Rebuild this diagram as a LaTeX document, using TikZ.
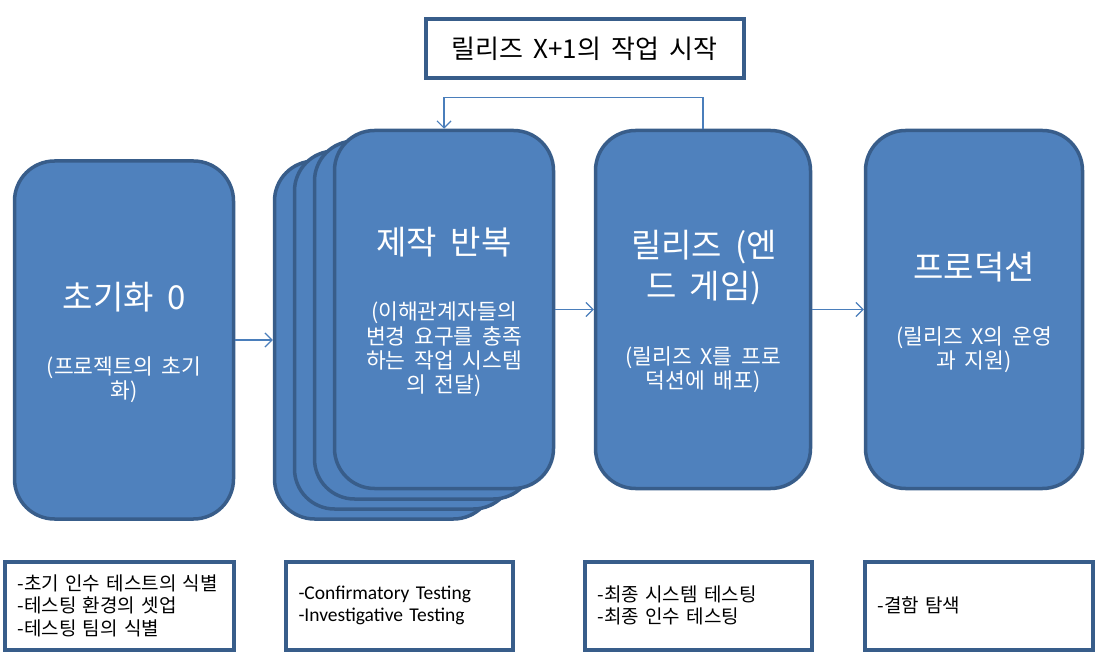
\documentclass[tikz,border=0pt]{standalone}
\usepackage{fontspec}
\setmainfont{Noto Sans CJK KR}[WordSpace=1.8]
\newfontfamily\lat{Carlito}
\usetikzlibrary{arrows.meta}
\definecolor{bfill}{HTML}{4F81BD}
\definecolor{bline}{HTML}{385D8A}
\definecolor{acol}{HTML}{4A7EBB}
\tikzset{
  blk/.style={draw=bline, fill=bfill, line width=3.5pt, rounded corners=40pt, minimum width=#1, minimum height=358pt, inner sep=0pt},
  note/.style={draw=bline, fill=white, line width=4pt, minimum width=#1, minimum height=88pt, inner xsep=13pt, text width=#1-26pt, align=left, font=\fontsize{19}{22.5}\selectfont},
  ttl/.style={text=white, align=center, inner sep=0pt, font=\fontsize{33}{41}\selectfont},
  sub/.style={text=white, align=center, inner sep=0pt, font=\fontsize{21.5}{24.3}\selectfont},
  arr/.style={draw=acol, line width=1.2pt, -{Straight Barb[length=7pt,width=14pt]}},
  topbox/.style={draw=bline, fill=white, line width=4pt, minimum width=318pt, minimum height=59pt, font=\fontsize{26}{30}\selectfont},
}
\begin{document}
\begin{tikzpicture}[x=1pt,y=-1pt]
\useasboundingbox (0,0) rectangle (1098,668);
% top box
\node[topbox] (top) at (584.5,49) {릴리즈 X+1의 작업 시작};
% blocks
\node[blk=219pt] (init) at (124,340) {};
\node[blk=219pt] (s4) at (384,340) {};
\node[blk=219pt] (s3) at (404,330) {};
\node[blk=219pt] (s2) at (424,320) {};
\node[blk=219pt] (s1) at (444,309.5) {};
\node[blk=215pt] (rel) at (703,309.5) {};
\node[blk=217pt] (prod) at (974,309.5) {};
% texts
\node[ttl] (t1) at (124,297) {초기화 0};
\node[sub] (u1) at (124,379.5) {(프로젝트의 초기\\화)};
\node[ttl] (t2) at (444,242) {제작 반복};
\node[sub] (u2) at (444,349.5) {(이해관계자들의\\변경 요구를 충족\\하는 작업 시스템\\의 전달)};
\node[ttl] (t3) at (704,267.5) {릴리즈 (엔\\드 게임)};
\node[sub] (u3) at (703,369.5) {(릴리즈 X를 프로\\덕션에 배포)};
\node[ttl] (t4) at (974,267) {프로덕션};
\node[sub] (u4) at (974,349.5) {(릴리즈 X의 운영\\과 지원)};
% arrows
\draw[arr] (init.east) -- (s4.west);
\draw[arr] (s1.east) -- (rel.west);
\draw[arr] (rel.east) -- (prod.west);
\draw[arr] (rel.north) -- ++(0,-31) -| (s1.north);
% notes
\node[note=229pt] (n1) at (119,605.5) {-초기 인수 테스트의 식별\\-테스팅 환경의 셋업\\-테스팅 팀의 식별};
\node[note=227pt] (n2) at (399,605.5) {\lat\fontsize{19.5}{22.5}\selectfont -Confirmatory Testing\\-Investigative Testing};
\node[note=227pt] (n3) at (698,605.5) {-최종 시스템 테스팅\\-최종 인수 테스팅};
\node[note=228pt] (n4) at (978.5,605.5) {-결함 탐색};
\end{tikzpicture}
\end{document}
